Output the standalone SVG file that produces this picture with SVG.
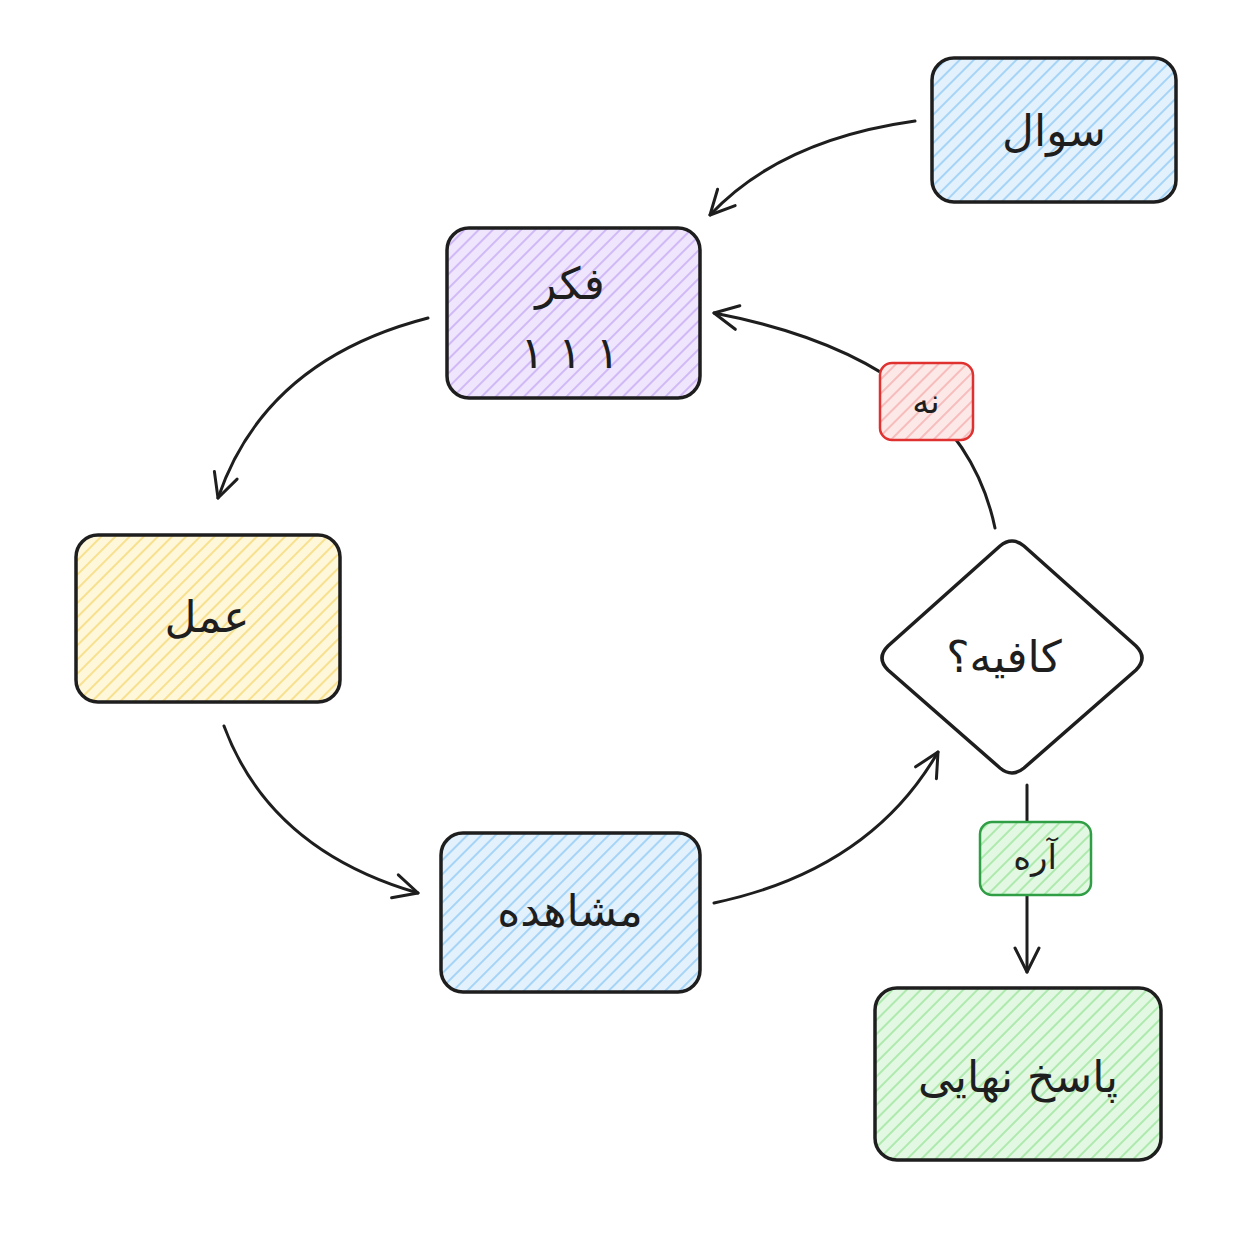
<svg xmlns="http://www.w3.org/2000/svg" width="1254" height="1254" viewBox="0 0 1254 1254">
<defs>
<pattern id="hb" width="10" height="10" patternUnits="userSpaceOnUse" patternTransform="rotate(45)"><rect width="10" height="10" fill="#e3f1fd"/><line x1="0" y1="0" x2="0" y2="10" stroke="#a5d4f7" stroke-width="4"/></pattern>
<pattern id="hp" width="10" height="10" patternUnits="userSpaceOnUse" patternTransform="rotate(45)"><rect width="10" height="10" fill="#efe6fd"/><line x1="0" y1="0" x2="0" y2="10" stroke="#d0b9f6" stroke-width="4"/></pattern>
<pattern id="hy" width="10" height="10" patternUnits="userSpaceOnUse" patternTransform="rotate(45)"><rect width="10" height="10" fill="#fff7d9"/><line x1="0" y1="0" x2="0" y2="10" stroke="#f7e08e" stroke-width="4"/></pattern>
<pattern id="hg" width="10" height="10" patternUnits="userSpaceOnUse" patternTransform="rotate(45)"><rect width="10" height="10" fill="#e2f8e2"/><line x1="0" y1="0" x2="0" y2="10" stroke="#aee9ae" stroke-width="4"/></pattern>
<pattern id="hr" width="10" height="10" patternUnits="userSpaceOnUse" patternTransform="rotate(45)"><rect width="10" height="10" fill="#fde8e8"/><line x1="0" y1="0" x2="0" y2="10" stroke="#f7bcbc" stroke-width="4"/></pattern>
<marker id="ar" viewBox="0 0 30 30" refX="27" refY="15" markerWidth="30" markerHeight="30" markerUnits="userSpaceOnUse" orient="auto"><path d="M3 3 L27 15 L3 27" fill="none" stroke="#1e1e1e" stroke-width="3" stroke-linecap="round" stroke-linejoin="round"/></marker>
</defs>
<style>
.n{stroke:#1e1e1e;stroke-width:3.5}
.t{font-family:"DejaVu Sans",sans-serif;font-size:44px;fill:#1e1e1e;text-anchor:middle;dominant-baseline:central}
.s{font-family:"DejaVu Sans",sans-serif;font-size:34px;fill:#1e1e1e;text-anchor:middle;dominant-baseline:central}
.c{fill:none;stroke:#1e1e1e;stroke-width:3;stroke-linecap:round}
</style>
<rect width="1254" height="1254" fill="#ffffff"/>
<g id="connectors">
<path class="c" d="M915 121 Q780 140 710 215" marker-end="url(#ar)"/>
<path class="c" d="M428 318 Q265 360 218 498" marker-end="url(#ar)"/>
<path class="c" d="M224 726 Q270 850 418 893" marker-end="url(#ar)"/>
<path class="c" d="M714 903 Q870 870 938 752" marker-end="url(#ar)"/>
<path class="c" d="M995 528 Q960 360 714 313" marker-end="url(#ar)"/>
<path class="c" d="M1027 785 L1027 972" marker-end="url(#ar)"/>
</g>
<g id="n-soal"><rect class="n" x="932" y="58" width="244" height="144" rx="22" fill="url(#hb)"/><text class="t" x="1054" y="130">سوال</text></g>
<g id="n-fekr"><rect class="n" x="447" y="228" width="253" height="170" rx="22" fill="url(#hp)"/><text class="t" x="570" y="283">فکر</text><text class="t" x="570" y="352">١  ١  ١</text></g>
<g id="n-amal"><rect class="n" x="76" y="535" width="264" height="167" rx="22" fill="url(#hy)"/><text class="t" x="207" y="616">عمل</text></g>
<g id="n-moshahede"><rect class="n" x="441" y="833" width="259" height="159" rx="22" fill="url(#hb)"/><text class="t" x="570" y="910">مشاهده</text></g>
<g id="n-kafie"><path class="n" d="M1000 546 Q1012 536 1024 546 L1136 646 Q1148 658 1136 670 L1024 768 Q1012 778 1000 768 L888 670 Q876 658 888 646 Z" fill="#ffffff"/><text class="t" x="1004" y="656">کافیه؟</text></g>
<g id="l-na"><rect x="880" y="363" width="93" height="77" rx="12" fill="url(#hr)" stroke="#e03131" stroke-width="2.5"/><text class="s" x="926" y="401">نه</text></g>
<g id="l-are"><rect x="980" y="822" width="111" height="73" rx="12" fill="url(#hg)" stroke="#2f9e44" stroke-width="2.5"/><text class="s" x="1035" y="857">آره</text></g>
<g id="n-pasokh"><rect class="n" x="875" y="988" width="286" height="172" rx="22" fill="url(#hg)"/><text class="t" x="1018" y="1076">پاسخ نهایی</text></g>
</svg>
